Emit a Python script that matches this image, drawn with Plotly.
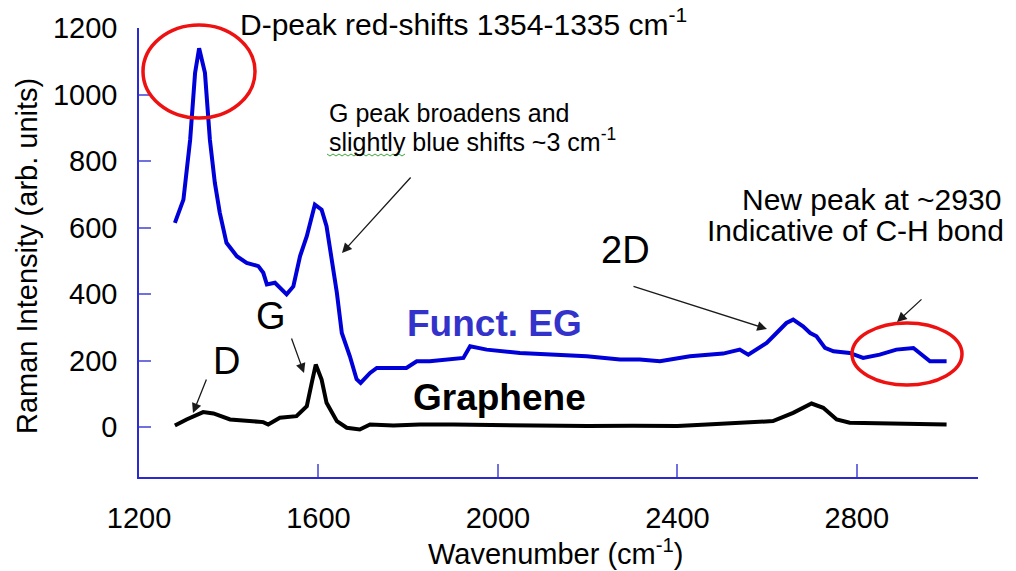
import plotly.graph_objects as go

# --- data ---
funct_eg_wavenumber = [1280, 1299, 1314, 1325, 1334, 1347, 1358, 1369, 1380, 1395, 1418, 1440,
                       1466, 1477, 1485, 1503, 1529, 1544, 1559, 1574, 1592, 1607, 1618, 1629,
                       1641, 1652, 1670, 1685, 1694, 1715, 1730, 1796, 1819, 1848, 1886, 1923,
                       1938, 1975, 2049, 2123, 2198, 2272, 2316, 2361, 2428, 2502, 2539, 2558,
                       2599, 2621, 2643, 2658, 2680, 2696, 2710, 2729, 2748, 2784, 2814, 2851,
                       2888, 2926, 2940, 2963, 3000]
funct_eg_intensity = [614, 684, 864, 1065, 1139, 1065, 864, 735, 645, 554, 514, 494,
                      484, 464, 429, 434, 399, 423, 514, 574, 669, 654, 604, 514,
                      404, 283, 213, 144, 133, 163, 178, 178, 198, 198, 203, 208,
                      243, 233, 223, 218, 213, 203, 203, 198, 213, 221, 233, 218,
                      253, 283, 313, 323, 303, 283, 273, 238, 228, 223, 208, 218,
                      233, 238, 223, 198, 198]

graphene_wavenumber = [1280, 1306, 1343, 1366, 1403, 1440, 1477, 1488, 1514, 1551, 1574, 1585,
                       1594, 1607, 1618, 1641, 1663, 1692, 1715, 1767, 1826, 1900, 2000, 2100,
                       2200, 2300, 2400, 2466, 2562, 2613, 2658, 2699, 2725, 2755, 2784, 2895,
                       3000]
graphene_intensity = [5, 23, 45, 41, 23, 18, 15, 8, 28, 33, 63, 133,
                      188, 143, 73, 18, -2, -7, 8, 5, 8, 8, 6, 5,
                      3, 4, 3, 8, 13, 18, 43, 71, 58, 23, 13, 10,
                      8]

x_ticks = [1200, 1600, 2000, 2400, 2800]
y_ticks = [0, 200, 400, 600, 800, 1000, 1200]

# --- layout geometry (pixels of the 1016x571 page) ---
W, H = 1016, 571
PLOT_L, PLOT_R, PLOT_T, PLOT_B = 139, 978, 28, 477
FONT = "Arial, Liberation Sans, sans-serif"
AXIS_BLUE = "#2a2ad0"


def px(x):
    return (x - PLOT_L) / (PLOT_R - PLOT_L)


def py(y):
    return (PLOT_B - y) / (PLOT_B - PLOT_T)


fig = go.Figure()
fig.add_trace(go.Scatter(x=graphene_wavenumber, y=graphene_intensity, mode="lines",
                         line=dict(color="black", width=4), name="Graphene"))
fig.add_trace(go.Scatter(x=funct_eg_wavenumber, y=funct_eg_intensity, mode="lines",
                         line=dict(color="#0000d8", width=4), name="Funct. EG"))

annotations = []


def text(x, y, s, size, color="black", bold=False, xanchor="center", yanchor="middle", angle=0):
    if bold:
        s = f"<b>{s}</b>"
    annotations.append(dict(x=px(x), y=py(y), xref="paper", yref="paper", text=s,
                            showarrow=False, xanchor=xanchor, yanchor=yanchor,
                            textangle=angle, align="left",
                            font=dict(family=FONT, size=size, color=color)))


def arrow(x0, y0, x1, y1):
    # tail (x0, y0) -> head (x1, y1), screen pixels
    annotations.append(dict(x=px(x1), y=py(y1), xref="paper", yref="paper",
                            ax=x0 - x1, ay=y0 - y1, axref="pixel", ayref="pixel",
                            text="", showarrow=True, arrowhead=2, arrowsize=1.5,
                            arrowwidth=1.3, arrowcolor="#1a1a1a"))


text(238, 22, "D-peak red-shifts 1354-1335 cm<sup>-1</sup>", 30, xanchor="left")
text(327, 113, "G peak broadens and", 25, xanchor="left")
text(327, 140, "slightly blue shifts ~3 cm<sup>-1</sup>", 25, xanchor="left")
text(625, 250, "2D", 38)
text(871, 200, "New peak at ~2930", 30)
text(855, 231, "Indicative of C-H bond", 30)
text(494, 323, "Funct. EG", 37, color="#3333cc", bold=True)
text(499, 397, "Graphene", 37, bold=True)
text(271, 316, "G", 38)
text(226, 361, "D", 38)
text(27, 256, "Raman Intensity (arb. units)", 29, angle=-90)
text(555, 552, "Wavenumber (cm<sup>-1</sup>)", 29)

arrow(412, 176, 342, 253)
arrow(632, 286, 767, 329)
arrow(923, 298, 897, 322)
arrow(291, 337, 304, 373)
arrow(207, 378, 193, 413)

shapes = [
    dict(type="circle", xref="paper", yref="paper", x0=px(143), x1=px(255), y0=py(118), y1=py(25),
         line=dict(color="#ee1111", width=3.5)),
    dict(type="circle", xref="paper", yref="paper", x0=px(852), x1=px(962), y0=py(385), y1=py(323),
         line=dict(color="#ee1111", width=3.5)),
]

# spell-check squiggle under "slightly"
zig = []
for i, xx in enumerate(range(327, 406, 3)):
    zig.append(f"{'M' if i == 0 else 'L'}{px(xx)},{py(155 + (1 if i % 2 else -1))}")
shapes.append(dict(type="path", xref="paper", yref="paper", path=" ".join(zig),
                   line=dict(color="#3aa83a", width=1)))

fig.update_layout(
    width=W, height=H,
    margin=dict(l=PLOT_L, r=W - PLOT_R, t=PLOT_T, b=H - PLOT_B, autoexpand=False),
    paper_bgcolor="white", plot_bgcolor="white",
    showlegend=False,
    annotations=annotations,
    shapes=shapes,
    font=dict(family=FONT, color="black"),
)
fig.update_xaxes(range=[1200, 3070], tickvals=x_ticks, ticks="inside", ticklen=13,
                 tickcolor="#7070e0", tickwidth=1.5, showline=True, linecolor=AXIS_BLUE,
                 linewidth=1.5, showgrid=False, zeroline=False,
                 tickfont=dict(family=FONT, size=29, color="black"), ticklabelstandoff=14)
fig.update_yaxes(range=[-150, 1200], tickvals=y_ticks, ticks="inside", ticklen=12,
                 tickcolor="#7070e0", tickwidth=1.5, showline=True, linecolor=AXIS_BLUE,
                 linewidth=1.5, showgrid=False, zeroline=False,
                 tickfont=dict(family=FONT, size=29, color="black"), ticklabelstandoff=14)

fig.write_html("out.html", config={"displayModeBar": False},
               post_script="document.body.style.margin='0px';")
